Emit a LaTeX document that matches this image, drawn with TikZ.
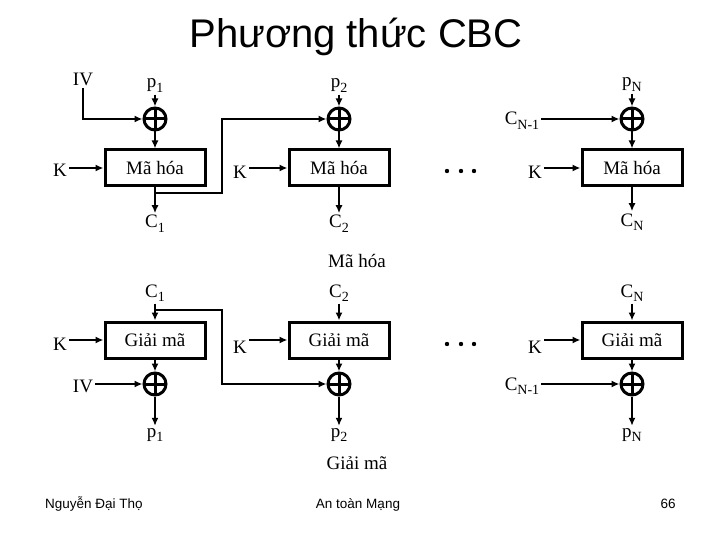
\documentclass[tikz,border=0pt]{standalone}
\usepackage{fontspec}
\setmainfont{Liberation Serif}
\newfontfamily\titlefont{Liberation Sans}
\usetikzlibrary{positioning,arrows.meta}

\newcommand\lowsub[1]{\raisebox{-4.5pt}{\fontsize{14}{14}\selectfont #1}}

\tikzset{
  box node/.style={draw,line width=3pt,minimum width=100pt,minimum height=36pt,inner sep=0pt,font=\fontsize{19}{19}\selectfont},
  xor node/.style={circle,draw,line width=3pt,minimum size=22pt,inner sep=0pt,
    path picture={\draw[line width=3pt] (path picture bounding box.north) -- (path picture bounding box.south)
      (path picture bounding box.west) -- (path picture bounding box.east);}},
  label node/.style={anchor=base,inner sep=2pt,font=\fontsize{19}{19}\selectfont},
  foot node/.style={anchor=base,font=\titlefont\fontsize{13.5}{13.5}\selectfont},
  flow/.style={line width=2pt,-{Latex[length=8pt,width=7pt]}}
}

\begin{document}
\begin{tikzpicture}[x=1pt,y=-1pt]
    \useasboundingbox (0,0) rectangle (720,540);
    \node[anchor=base,font=\titlefont\fontsize{40}{40}\selectfont] (title) at (356,48) {Phương thức CBC};

    % ma hoa
    \node[label node] (iv) at (83,86) {IV};
    \node[label node] (p1) at (155,88) {p\lowsub{1}};
    \node[label node] (p2) at (339,88) {p\lowsub{2}};
    \node[label node] (pN) at (632,87) {p\lowsub{N}};
    \node[xor node] (x1) at (155,119) {};
    \node[xor node] (x2) at (339,119) {};
    \node[xor node] (xN) at (632,119) {};
    \node[label node] (cprev) at (522,125) {C\lowsub{N-1}};
    \node[box node] (e1) at (155,168) {Mã hóa};
    \node[box node] (e2) at (339,168) {Mã hóa};
    \node[box node] (eN) at (632,168) {Mã hóa};
    \node[label node] (k1) at (60,177) {K};
    \node[label node] (k2) at (240,179) {K};
    \node[label node] (kN) at (535,179) {K};
    \node[label node] (c1) at (155,228) {C\lowsub{1}};
    \node[label node] (c2) at (339,228) {C\lowsub{2}};
    \node[label node] (cN) at (632,226) {C\lowsub{N}};
    \node[label node] (enc) at (357,267) {Mã hóa};
    \coordinate (b1) at (155,193);
    \coordinate (t1) at (222,193);

    \path[flow]
        (p1) edge (x1)
        (p2) edge (x2)
        (pN) edge (xN)
        (x1) edge (e1)
        (x2) edge (e2)
        (xN) edge (eN)
        (cprev.east |- xN) edge (xN)
        (k1.east |- e1) edge (e1)
        (k2.east |- e2) edge (e2)
        (kN.east |- eN) edge (eN)
        (e1) edge (c1)
        (e2) edge (c2)
        (eN) edge (cN);
    \draw[flow] (iv.south) |- (x1);
    \draw[flow] (b1) -- (t1) |- (x2);

    % giai ma
    \node[label node] (dc1) at (155,297) {C\lowsub{1}};
    \node[label node] (dc2) at (339,297) {C\lowsub{2}};
    \node[label node] (dcN) at (632,297) {C\lowsub{N}};
    \node[box node] (d1) at (155,340) {Giải mã};
    \node[box node] (d2) at (339,340) {Giải mã};
    \node[box node] (dN) at (632,340) {Giải mã};
    \node[label node] (dk1) at (60,350) {K};
    \node[label node] (dk2) at (240,353) {K};
    \node[label node] (dkN) at (535,353) {K};
    \node[xor node] (y1) at (155,384) {};
    \node[xor node] (y2) at (339,384) {};
    \node[xor node] (yN) at (632,384) {};
    \node[label node] (div) at (83,392) {IV};
    \node[label node] (dprev) at (522,390) {C\lowsub{N-1}};
    \node[label node] (q1) at (155,437) {p\lowsub{1}};
    \node[label node] (q2) at (339,437) {p\lowsub{2}};
    \node[label node] (qN) at (632,437) {p\lowsub{N}};
    \node[label node] (dec) at (357,469) {Giải mã};
    \coordinate (b2) at (155,310);
    \coordinate (t2) at (222,310);

    \path[flow]
        (dc1) edge (d1)
        (dc2) edge (d2)
        (dcN) edge (dN)
        (dk1.east |- d1) edge (d1)
        (dk2.east |- d2) edge (d2)
        (dkN.east |- dN) edge (dN)
        (d1) edge (y1)
        (d2) edge (y2)
        (dN) edge (yN)
        (div.east |- y1) edge (y1)
        (dprev.east |- yN) edge (yN)
        (y1) edge (q1)
        (y2) edge (q2)
        (yN) edge (qN);
    \draw[flow] (b2) -- (t2) |- (y2);

    \foreach \x in {447,461,474} {
        \fill (\x,171) circle (2.2);
        \fill (\x,344) circle (2.2);
    }

    \node[foot node] (author) at (94,508) {Nguyễn Đại Thọ};
    \node[foot node] (course) at (358,508) {An toàn Mạng};
    \node[foot node] (page) at (668,508) {66};
\end{tikzpicture}
\end{document}
